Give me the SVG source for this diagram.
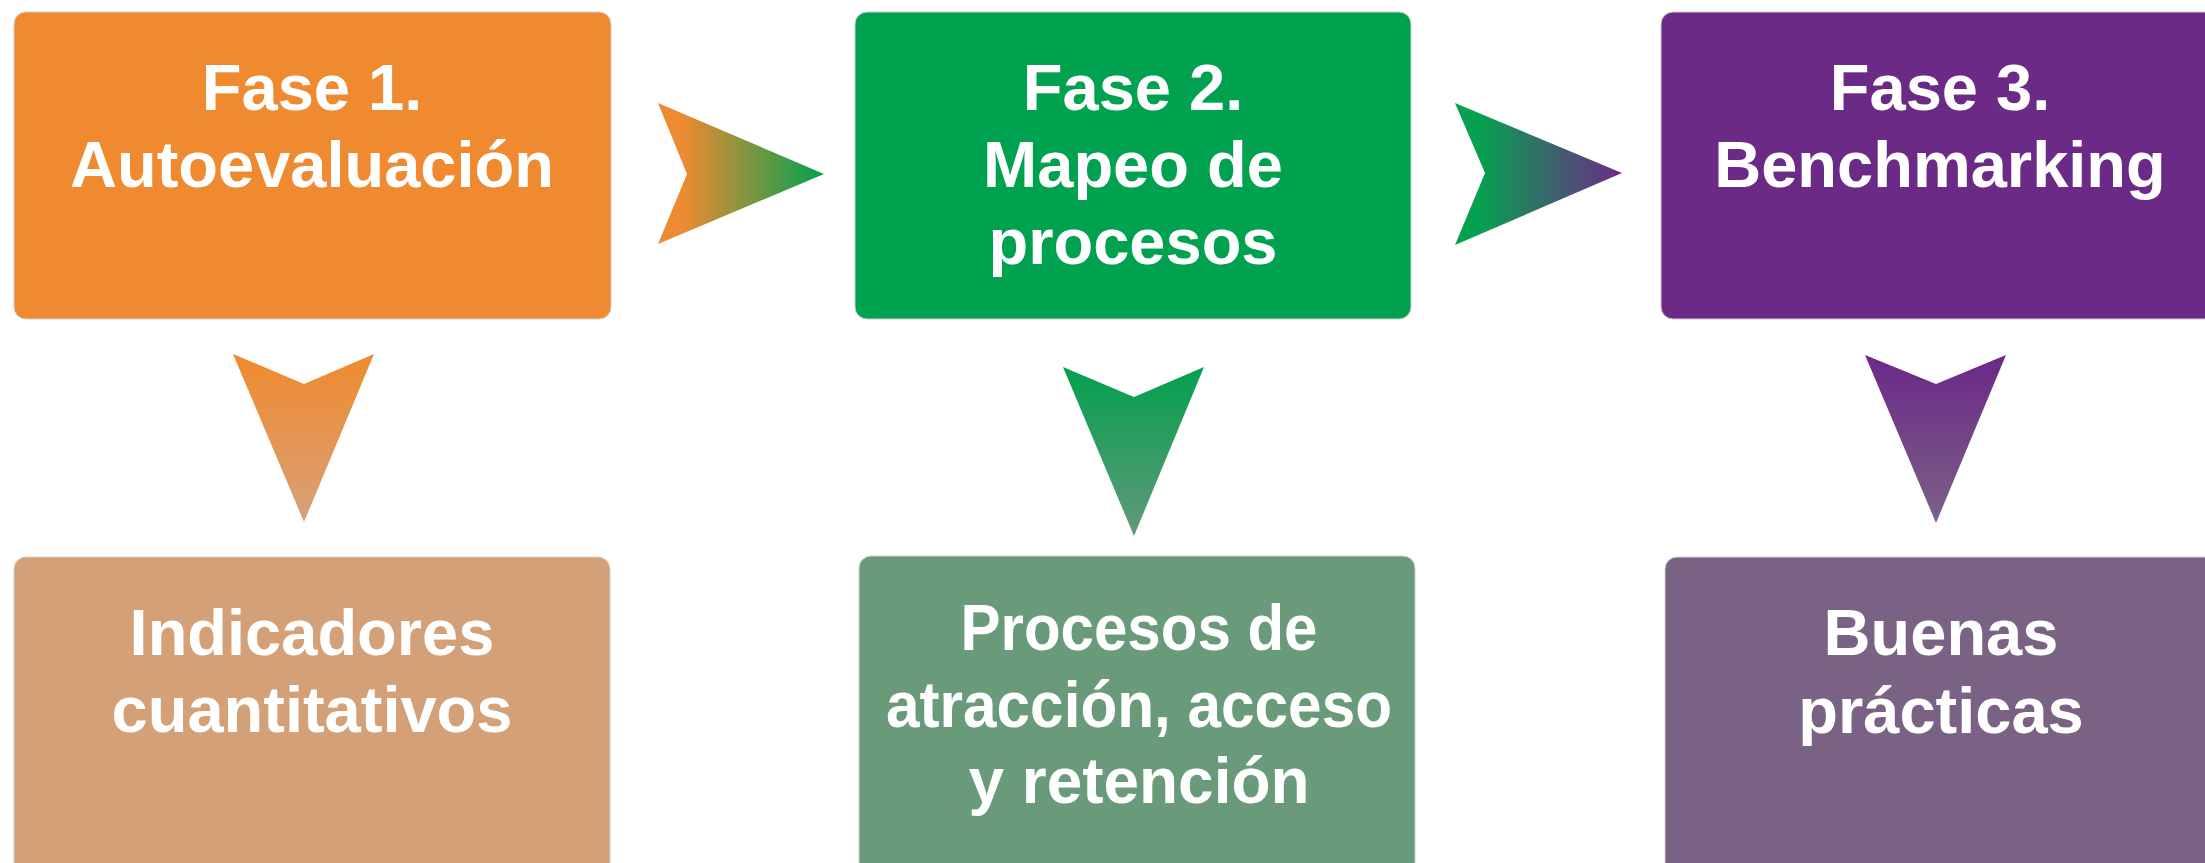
<svg xmlns="http://www.w3.org/2000/svg" width="2205" height="863" viewBox="0 0 2205 863">
  <style>
    .box { stroke: #cfcfcf; stroke-width: 1; }
    .lbl { font-family: "Liberation Sans", Arial, sans-serif; font-weight: bold; font-size: 65px; fill: #ffffff; text-anchor: middle; }
  </style>
  <defs>
    <linearGradient id="gR1" x1="0" y1="0" x2="1" y2="0">
      <stop offset="0.15" stop-color="#EC8B32"/>
      <stop offset="1" stop-color="#00A24E"/>
    </linearGradient>
    <linearGradient id="gR2" x1="0" y1="0" x2="1" y2="0">
      <stop offset="0.15" stop-color="#07A050"/>
      <stop offset="1" stop-color="#6C2A88"/>
    </linearGradient>
    <linearGradient id="gD1" x1="0" y1="0" x2="0" y2="1">
      <stop offset="0" stop-color="#EF8A2E"/>
      <stop offset="1" stop-color="#D8A177"/>
    </linearGradient>
    <linearGradient id="gD2" x1="0" y1="0" x2="0" y2="1">
      <stop offset="0" stop-color="#03A04E"/>
      <stop offset="1" stop-color="#62997A"/>
    </linearGradient>
    <linearGradient id="gD3" x1="0" y1="0" x2="0" y2="1">
      <stop offset="0" stop-color="#6B2889"/>
      <stop offset="1" stop-color="#7B6186"/>
    </linearGradient>
  </defs>
  <rect width="2205" height="863" fill="#ffffff"/>

  <g id="fase1">
    <rect class="box" x="14" y="12" width="597" height="307" rx="12" fill="#EF8A31"/>
    <text class="lbl" x="312" y="110">Fase 1.</text>
    <text class="lbl" x="312" y="187">Autoevaluación</text>
  </g>
  <g id="fase2">
    <rect class="box" x="855" y="12" width="556" height="307" rx="12" fill="#00A14F"/>
    <text class="lbl" x="1133" y="110">Fase 2.</text>
    <text class="lbl" x="1133" y="187">Mapeo de</text>
    <text class="lbl" x="1133" y="264">procesos</text>
  </g>
  <g id="fase3">
    <rect class="box" x="1661" y="12" width="560" height="307" rx="12" fill="#6B2A86"/>
    <text class="lbl" x="1940" y="110">Fase 3.</text>
    <text class="lbl" x="1940" y="187">Benchmarking</text>
  </g>
  <g id="indicadores">
    <rect class="box" x="14" y="557" width="596" height="320" rx="12" fill="#D4A077"/>
    <text class="lbl" x="312" y="655">Indicadores</text>
    <text class="lbl" x="312" y="732">cuantitativos</text>
  </g>
  <g id="procesos">
    <rect class="box" x="859" y="556" width="556" height="320" rx="12" fill="#699A79"/>
    <text class="lbl" x="1139" y="650" textLength="357" lengthAdjust="spacingAndGlyphs">Procesos de</text>
    <text class="lbl" x="1139" y="727" textLength="506" lengthAdjust="spacingAndGlyphs">atracción, acceso</text>
    <text class="lbl" x="1139" y="803" textLength="341" lengthAdjust="spacingAndGlyphs">y retención</text>
  </g>
  <g id="buenas">
    <rect class="box" x="1665" y="557" width="560" height="320" rx="12" fill="#7A6285"/>
    <text class="lbl" x="1941" y="655">Buenas</text>
    <text class="lbl" x="1941" y="733">prácticas</text>
  </g>

  <g id="connectors">
    <polygon points="658,103 824,174 658,244 687,174" fill="url(#gR1)"/>
    <polygon points="1455,103 1622,173 1455,245 1485,173" fill="url(#gR2)"/>
    <polygon points="233,354 304,384 374,354 304,522" fill="url(#gD1)"/>
    <polygon points="1063,367 1134,397 1204,367 1134,536" fill="url(#gD2)"/>
    <polygon points="1865,355 1936,384 2006,355 1936,523" fill="url(#gD3)"/>
  </g>
</svg>
